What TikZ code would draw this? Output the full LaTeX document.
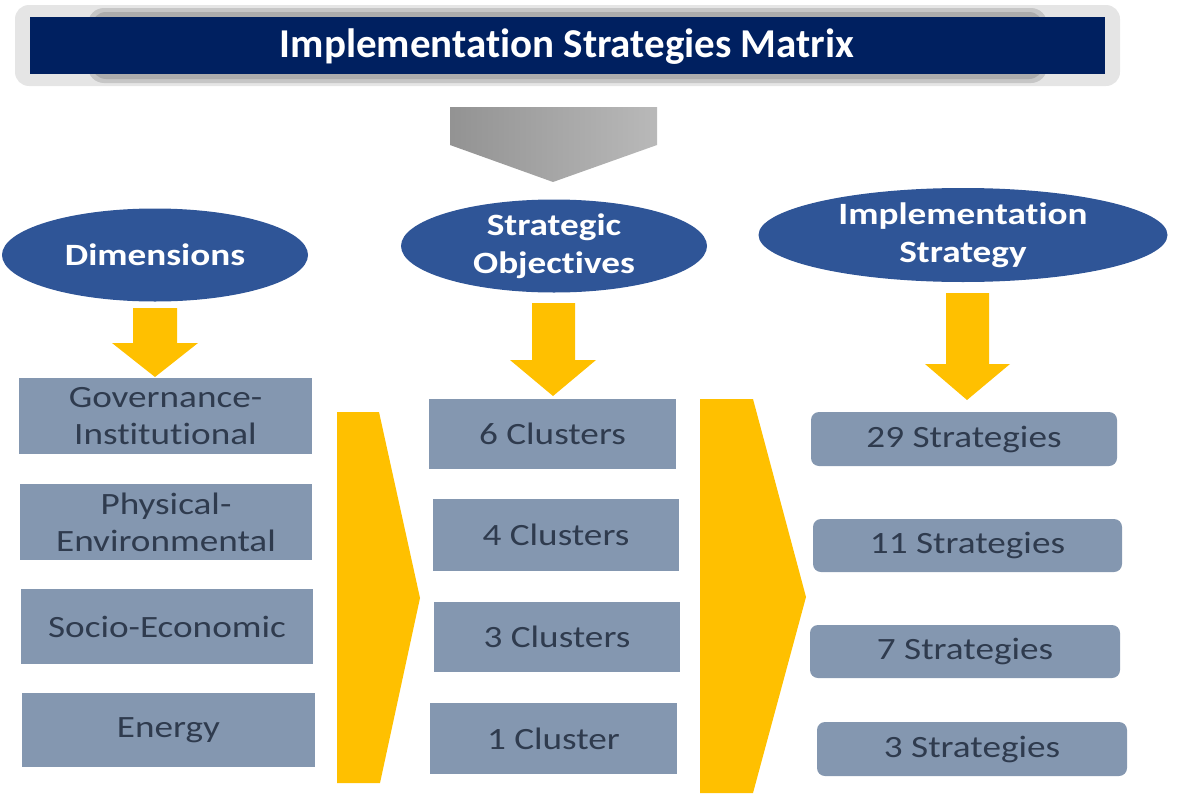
\documentclass[tikz,border=0pt]{standalone}
\usepackage{fontspec}
\setmainfont{Carlito}[Ligatures=NoCommon]
\newfontfamily\widefont{Carlito}[FakeStretch=1.2,Ligatures=NoCommon]
\usepackage{tikz}
\usetikzlibrary{shapes,positioning}
\definecolor{navy}{HTML}{002060}
\definecolor{ovalblue}{HTML}{2F5597}
\definecolor{amber}{HTML}{FFC000}
\definecolor{slatebox}{HTML}{8497B0}
\definecolor{slatetext}{HTML}{2F3B4E}

\begin{document}
\begin{tikzpicture}[
  x=1pt, y=-1pt,
  myoval/.style={draw=none,fill=ovalblue,ellipse,text=white,align=center,inner sep=0pt,
    font=\widefont\bfseries\fontsize{31}{38}\selectfont},
  mybox/.style={draw=none,fill=slatebox,rectangle,text=slatetext,align=center,inner sep=0pt,
    font=\widefont\fontsize{31}{37}\selectfont},
  myrbox/.style={mybox,rounded corners=8pt},
  myarrow/.style={fill=amber,draw=none}
]
\useasboundingbox (0,0) rectangle (1180,795);

% title bar
\fill[gray!20,rounded corners=14pt] (15,5) rectangle (1120,86);
\fill[gray!45,rounded corners=16pt] (88,8) rectangle (1047,83);
\fill[gray!65,rounded corners=14pt] (92,12) rectangle (1043,79);
\fill[navy] (30,17) rectangle (1105,74);
\node[text=white,font=\bfseries\fontsize{41}{44}\selectfont] (title) at (567,47) {Implementation Strategies Matrix};

% grey arrow
\shade[left color=gray!85,right color=gray!55] (450,107) -- (657,107) -- (657,145) -- (553,182) -- (450,145) -- cycle;

% heads
\node[myoval, minimum width=306, minimum height=93] (dim) at (155,255) {Dimensions};
\node[myoval, minimum width=306, minimum height=93] (obj) at (554,246) {Strategic\\Objectives};
\node[myoval, minimum width=409, minimum height=94] (impl) at (963,235) {Implementation\\Strategy};

% down arrows
\fill[myarrow] (133,308) -- (177,308) -- (177,343) -- (198,343) -- (155,377) -- (112,343) -- (133,343) -- cycle;
\fill[myarrow] (532,303) -- (575,303) -- (575,360) -- (596,360) -- (553,396) -- (510,360) -- (532,360) -- cycle;
\fill[myarrow] (946,293) -- (989,293) -- (989,364) -- (1010,364) -- (967,400) -- (925,364) -- (946,364) -- cycle;

% dimensions
\node[mybox, minimum width=293, minimum height=76] (gov) at (165.5,416) {Governance-\\Institutional};
\node[mybox, minimum width=292, minimum height=76] (phy) at (166,522) {Physical-\\Environmental};
\node[mybox, minimum width=292, minimum height=75] (soc) at (167,626.5) {Socio-Economic};
\node[mybox, minimum width=293, minimum height=74] (ene) at (168.5,730) {Energy};

% big chevrons
\fill[myarrow] (337,412) -- (379,412) -- (420,598) -- (380,783) -- (337,783) -- cycle;
\fill[myarrow] (700,399) -- (753,399) -- (806,597) -- (753,793) -- (700,793) -- cycle;

% clusters
\node[mybox, minimum width=247, minimum height=70] (c6) at (552.5,434) {6 Clusters};
\node[mybox, minimum width=246, minimum height=72] (c4) at (556,535) {4 Clusters};
\node[mybox, minimum width=246, minimum height=70] (c3) at (557,637) {3 Clusters};
\node[mybox, minimum width=247, minimum height=71] (c1) at (553.5,738.5) {1 Cluster};

% strategies
\node[myrbox, minimum width=306, minimum height=54] (s29) at (964,439) {29 Strategies};
\node[myrbox, minimum width=309, minimum height=53] (s11) at (967.5,545.5) {11 Strategies};
\node[myrbox, minimum width=310, minimum height=53] (s7) at (965,651.5) {7 Strategies};
\node[myrbox, minimum width=310, minimum height=54] (s3) at (972,749) {3 Strategies};
\end{tikzpicture}
\end{document}
